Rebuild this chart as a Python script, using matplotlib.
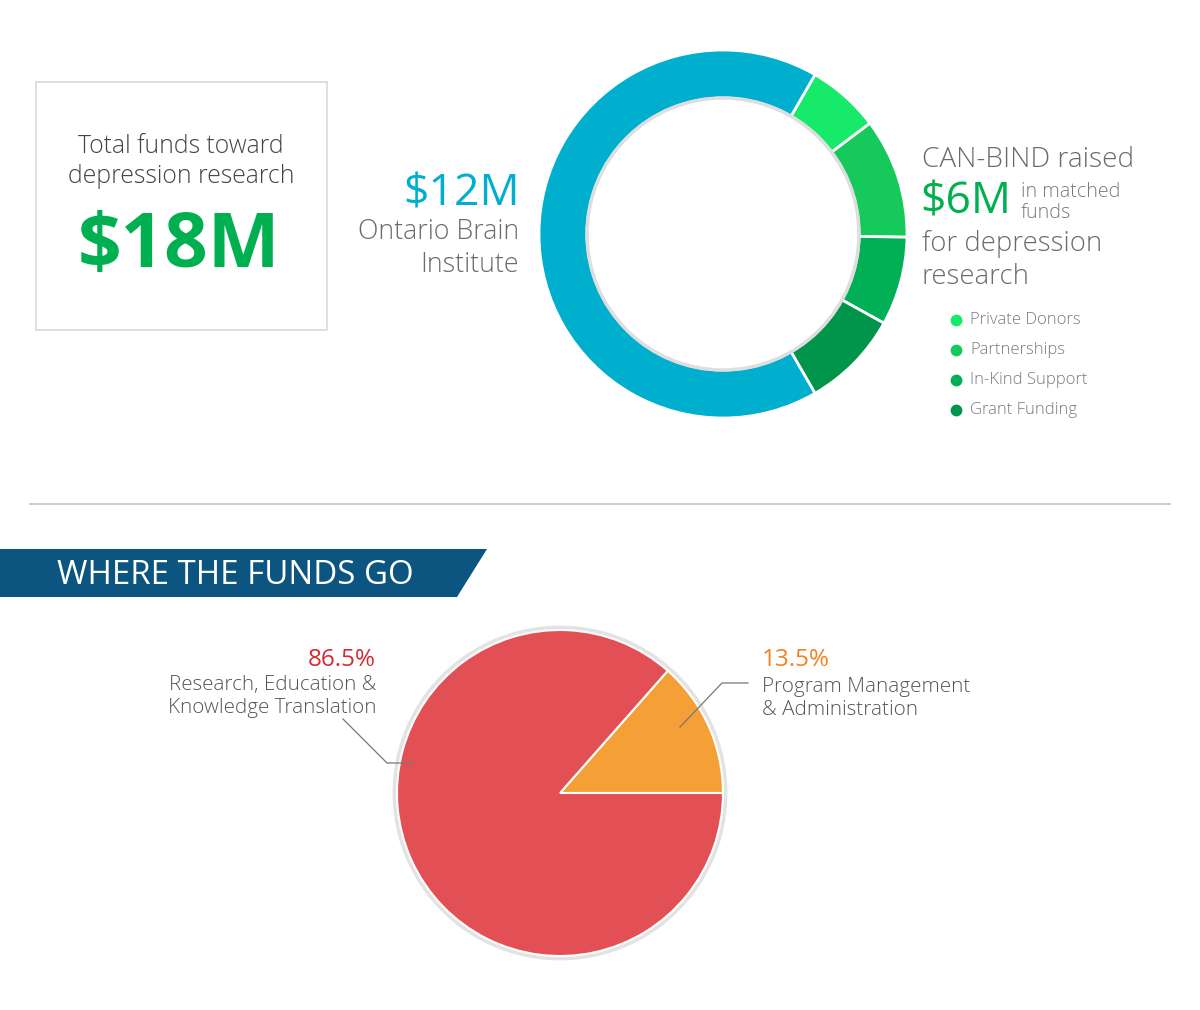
import matplotlib
matplotlib.use("Agg")
import matplotlib.pyplot as plt
from matplotlib.patches import Rectangle, Circle, Polygon

plt.rcParams['font.family'] = ['Open Sans', 'DejaVu Sans']

# dados (em milhoes de dolares / percentuais)
fontes = ['Private Donors', 'Partnerships', 'In-Kind Support', 'Grant Funding', 'Ontario Brain Institute']
valores_fontes = [1.15, 1.9, 1.4, 1.55, 12.0]
cores_fontes = ['#17e96b', '#15ca5b', '#00af56', '#00954a', '#00aece']

destinos = ['Program Management\n& Administration', 'Research, Education &\nKnowledge Translation']
percentuais = [13.5, 86.5]
cores_destinos = ['#f4a037', '#e25055']

total = sum(valores_fontes)
obi = valores_fontes[-1]
canbind = sum(valores_fontes[:-1])

W, H = 1200, 1010
def py(y):
    # converte y em pixels (de cima para baixo) para coordenadas do eixo
    return H - y

fig = plt.figure(figsize=(W / 100, H / 100), dpi=100)
ax = fig.add_axes([0, 0, 1, 1])

GREY = '#6b6b6b'
LIGHT = 300

# ---------- caixa do total ----------
ax.add_patch(Rectangle((36, py(330)), 291, 248, fill=False, ec='#d9d9d9', lw=1.2))
ax.text(181, py(153), 'Total funds toward', ha='center', va='baseline',
        fontsize=17.8, color='#444444', fontweight=LIGHT)
ax.text(181, py(183), 'depression research', ha='center', va='baseline',
        fontsize=17.8, color='#444444', fontweight=LIGHT)
ax.text(179, py(267), '$%dM' % round(total), ha='center', va='baseline',
        fontsize=55, color='#00b050', fontweight='bold')

# ---------- rosca das fontes ----------
cx, cy = 723, py(234)
ax.pie(valores_fontes, colors=cores_fontes, startangle=60, counterclock=False,
       radius=184, center=(cx, cy),
       wedgeprops=dict(width=48, edgecolor='white', linewidth=2))
ax.add_patch(Circle((cx, cy), 136, fill=False, ec='#dedede', lw=2.5, zorder=3))

ax.text(520, py(206), '$%dM' % round(obi), ha='right', va='baseline',
        fontsize=32, color='#00aece')
ax.text(519, py(239), 'Ontario Brain', ha='right', va='baseline',
        fontsize=19.3, color=GREY, fontweight=LIGHT)
ax.text(519, py(272), 'Institute', ha='right', va='baseline',
        fontsize=19.3, color=GREY, fontweight=LIGHT)

ax.text(922, py(167), 'CAN-BIND raised', ha='left', va='baseline',
        fontsize=20.2, color=GREY, fontweight=LIGHT)
ax.text(920, py(214), '$%dM' % round(canbind), ha='left', va='baseline',
        fontsize=32, color='#00b050')
ax.text(1021, py(197), 'in matched', ha='left', va='baseline',
        fontsize=14.2, color='#7a7a7a', fontweight=LIGHT)
ax.text(1021, py(218), 'funds', ha='left', va='baseline',
        fontsize=14.2, color='#7a7a7a', fontweight=LIGHT)
ax.text(922, py(251), 'for depression', ha='left', va='baseline',
        fontsize=19.8, color=GREY, fontweight=LIGHT)
ax.text(922, py(284), 'research', ha='left', va='baseline',
        fontsize=19.8, color=GREY, fontweight=LIGHT)

# legenda manual
for i, (nome, cor) in enumerate(zip(fontes[:-1], cores_fontes[:-1])):
    yy = py(320 + 30 * i)
    ax.plot([956], [yy], 'o', ms=8.5, color=cor, mec='none')
    ax.text(970, yy, nome, ha='left', va='center', fontsize=12,
            color='#7a7a7a', fontweight=LIGHT)

# ---------- separador e faixa ----------
ax.plot([30, 1170], [py(504), py(504)], color='#cccccc', lw=1.5)
ax.add_patch(Polygon([(0, py(549)), (487, py(549)), (457, py(597)), (0, py(597))],
                     closed=True, fc='#0b5580', ec='none'))
ax.text(57, py(584), 'WHERE THE FUNDS GO', ha='left', va='baseline',
        fontsize=23.8, color='white')

# ---------- pizza dos destinos ----------
px0, py0 = 560, py(793)
ax.add_patch(Circle((px0, py0), 165, fill=False, ec='#e3e3e3', lw=3.5, zorder=0))
ax.pie(percentuais, colors=cores_destinos, startangle=0, counterclock=True,
       radius=163, center=(px0, py0),
       wedgeprops=dict(edgecolor='white', linewidth=1.5))

# linhas de chamada
ax.plot([343, 387, 413], [py(719), py(763), py(763)], color='#777777', lw=0.9, zorder=5)
ax.plot([680, 722, 748], [py(727), py(683), py(683)], color='#777777', lw=0.9, zorder=5)

ax.text(376, py(666), '%.1f%%' % percentuais[1], ha='right', va='baseline',
        fontsize=17.5, color='#d62a33')
ax.text(376, py(690), destinos[1].split('\n')[0], ha='right', va='baseline',
        fontsize=14.8, color='#555555', fontweight=LIGHT)
ax.text(376, py(713), destinos[1].split('\n')[1], ha='right', va='baseline',
        fontsize=14.8, color='#555555', fontweight=LIGHT)

ax.text(762, py(666), '%.1f%%' % percentuais[0], ha='left', va='baseline',
        fontsize=17.5, color='#f5801c')
ax.text(762, py(692), destinos[0].split('\n')[0], ha='left', va='baseline',
        fontsize=14.9, color='#555555', fontweight=LIGHT)
ax.text(762, py(715), destinos[0].split('\n')[1], ha='left', va='baseline',
        fontsize=14.9, color='#555555', fontweight=LIGHT)

ax.set_xlim(0, W)
ax.set_ylim(0, H)
ax.set_aspect('auto')
ax.axis('off')

fig.savefig('out.png', dpi=100, facecolor='white')
